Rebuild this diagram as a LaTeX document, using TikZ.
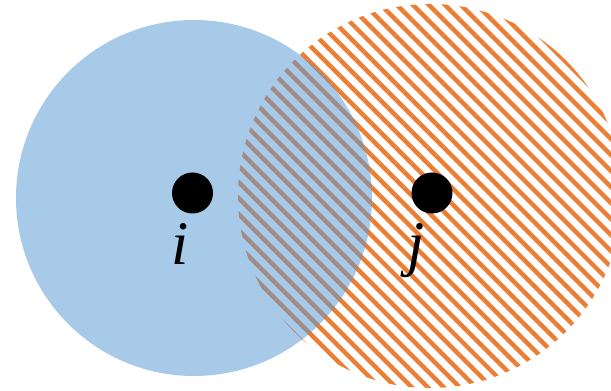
\documentclass[tikz,border=0pt]{standalone}
\usepackage{fontspec}
\setmainfont{Liberation Serif}
\usetikzlibrary{patterns.meta}
\definecolor{hatchorange}{HTML}{ED7D31}
\definecolor{diskblue}{HTML}{5B9BD5}
\tikzset{
  setj/.style={circle, minimum size=384pt, inner sep=0pt, draw=none,
    pattern={Lines[angle=-45,distance=11.3pt,line width=4.4pt]}, pattern color=hatchorange},
  seti/.style={circle, minimum size=356pt, inner sep=0pt, draw=none,
    fill=diskblue, fill opacity=0.53},
  pointdot/.style={circle, fill=black, minimum size=41pt, inner sep=0pt},
  lbl/.style={anchor=base, inner sep=0pt, font=\fontsize{62}{62}\selectfont\itshape}
}
\begin{document}
\begin{tikzpicture}[x=1pt,y=1pt]
\useasboundingbox (0,0) rectangle (611,391);
\begin{scope}
\clip (0,0) rectangle (611,391);
\node[setj] (cj) at (430,195) {};
\end{scope}
\node[seti] (ci) at (194,193) {};
\node[pointdot] (pi) at (192.5,198) {};
\node[pointdot] (pj) at (432,198) {};
\node[lbl] (li) at (180,126) {i};
\node[lbl] (lj) at (416,126) {j};
\end{tikzpicture}
\end{document}
